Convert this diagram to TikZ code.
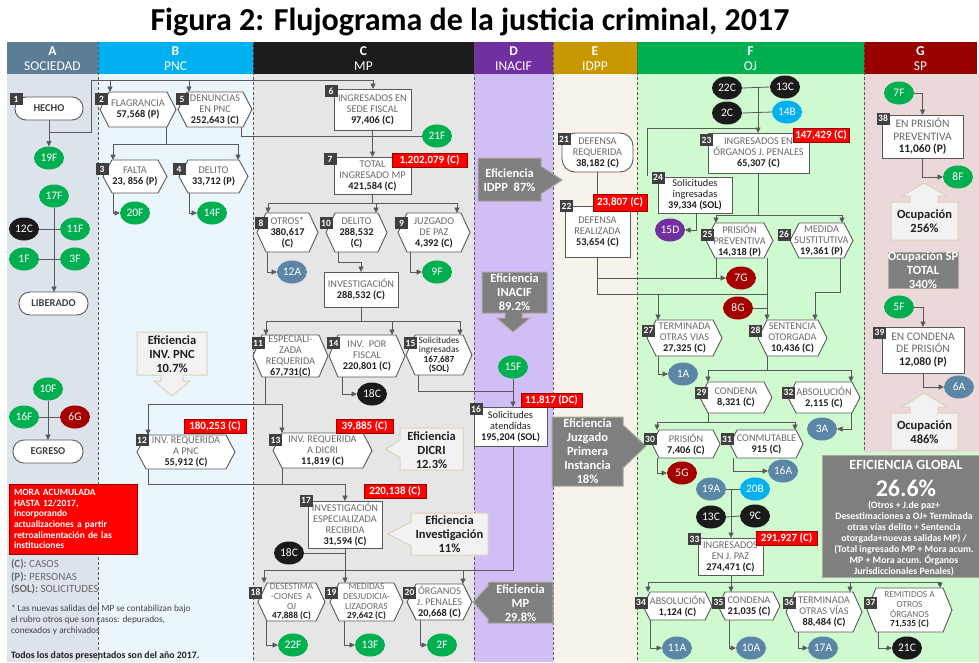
\documentclass[tikz,border=0pt]{standalone}
\usepackage{fontspec}
\setmainfont{Carlito}
\usetikzlibrary{arrows.meta,calc,shapes.geometric}
\pgfdeclarelayer{bg}
\pgfdeclarelayer{mid}
\pgfsetlayers{bg,mid,main}
\definecolor{hdrA}{HTML}{5B7E96}
\definecolor{bgA}{HTML}{DCE3EA}
\definecolor{hdrB}{HTML}{00B0F0}
\definecolor{bgB}{HTML}{EAF6FC}
\definecolor{hdrC}{HTML}{1C1C1C}
\definecolor{bgC}{HTML}{E6E6E6}
\definecolor{hdrD}{HTML}{7030A0}
\definecolor{bgD}{HTML}{D0BEF6}
\definecolor{hdrE}{HTML}{C99700}
\definecolor{bgE}{HTML}{F8F3EA}
\definecolor{hdrF}{HTML}{00B050}
\definecolor{bgF}{HTML}{CFF9CF}
\definecolor{hdrG}{HTML}{990000}
\definecolor{bgG}{HTML}{EBD9D9}
\definecolor{linec}{HTML}{595959}
\definecolor{labc}{HTML}{6A6A6A}
\definecolor{numc}{HTML}{1F1F1F}
\definecolor{badgec}{HTML}{404040}
\definecolor{cgreen}{HTML}{00B050}
\definecolor{cslate}{HTML}{5B86A6}
\definecolor{cblack}{HTML}{1A1A1A}
\definecolor{cdred}{HTML}{A50000}
\definecolor{ccyan}{HTML}{00B0F0}
\definecolor{cpurple}{HTML}{7030A0}
\definecolor{redlab}{HTML}{FF0000}
\definecolor{lightc}{HTML}{F2F2F2}
\definecolor{tanc}{HTML}{DDD0B8}
\definecolor{darkc}{HTML}{7F7F7F}
\newcommand\LB[1]{{\color{labc}#1}}
\newcommand\NM[1]{{\bfseries #1}}
\newcommand\hexa[2][9]{\begin{pgfonlayer}{mid}\draw[hexline] ($(#2.north west)+(#1,0)$) -- ($(#2.north east)+(-#1,0)$) -- (#2.east) -- ($(#2.south east)+(-#1,0)$) -- ($(#2.south west)+(#1,0)$) -- (#2.west) -- cycle;\end{pgfonlayer}}
\tikzset{
  conn/.style={draw=linec, line width=0.8pt},
  arr/.style={conn, -{Triangle[length=5.5pt,width=5pt]}},
  hexline/.style={draw=linec, fill=white, line width=0.9pt, line join=miter},
  txt/.style={font=\fontsize{10.3}{11}\selectfont, align=center, text=numc},
  hx/.style={txt},
  tight/.style={font=\fontsize{9.3}{9.6}\selectfont},
  big/.style={font=\fontsize{11.5}{12.5}\selectfont},
  bx/.style={txt, draw=linec, fill=white, line width=0.9pt},
  rbx/.style={bx, rounded corners=11pt, font=\fontsize{10.5}{11}\selectfont\bfseries, text=badgec},
  badge/.style={fill=badgec, text=white, font=\fontsize{9.5}{9.5}\selectfont\bfseries, minimum width=13, minimum height=12},
  redl/.style={fill=redlab, draw=red!60!black, line width=0.4pt, text=white, font=\fontsize{11}{11}\selectfont\bfseries, minimum height=14},
  circ/.style={ellipse, minimum width=30, minimum height=23, text=white, font=\fontsize{11.5}{11.5}\selectfont},
  cg/.style={circ, fill=cgreen}, cs/.style={circ, fill=cslate}, ck/.style={circ, fill=cblack},
  cr/.style={circ, fill=cdred}, cc/.style={circ, fill=ccyan}, cp/.style={circ, fill=cpurple},
  hdr/.style={text=white, font=\fontsize{13.5}{14.5}\selectfont, align=center},
  light/.style={fill=lightc, draw=tanc, line width=1pt},
  dark/.style={fill=darkc, draw=tanc!50!darkc, line width=1pt},
  ctxt/.style={font=\fontsize{12.5}{14}\selectfont\bfseries, align=center, text=numc},
  dtxt/.style={font=\fontsize{12.5}{14}\selectfont\bfseries, align=center, text=white},
  sepline/.style={draw=linec, line width=0.8pt, dash pattern=on 3pt off 2pt}
}
\begin{document}
\begin{tikzpicture}[x=1pt,y=-1pt, every node/.style={inner sep=0pt,outer sep=0pt}]
\clip (0,0) rectangle (979,662);
\begin{pgfonlayer}{bg}
\fill[white] (0,0) rectangle (979,662);
\fill[bgA] (7,74) rectangle (98,662);
\fill[bgB] (98,74) rectangle (253,662);
\fill[bgC] (253,74) rectangle (474,662);
\fill[bgD] (474,74) rectangle (553,662);
\fill[bgE] (553,74) rectangle (637,662);
\fill[bgF] (637,74) rectangle (979,662);
\fill[bgG] (864,74) rectangle (979,452);
\fill[hdrA] (7,42) rectangle (98,74);
\fill[hdrB] (98,42) rectangle (253,74);
\fill[hdrC] (253,42) rectangle (474,74);
\fill[hdrD] (474,42) rectangle (553,74);
\fill[hdrE] (553,42) rectangle (637,74);
\fill[hdrF] (637,42) rectangle (864,74);
\fill[hdrG] (864,42) rectangle (977,74);
\foreach \xx in {98,253,474,553,637} \draw[sepline] (\xx,42) -- (\xx,662);
\draw[sepline] (864,42) -- (864,452);
\end{pgfonlayer}

% title and headers
\node[font=\fontsize{32}{34}\selectfont\bfseries, anchor=base] (title) at (470,30) {Figura 2: Flujograma de la justicia criminal, 2017};
\node[hdr] (hA) at (52.5,58.5) {\textbf{A}\\SOCIEDAD};
\node[hdr] (hB) at (175.5,58.5) {\textbf{B}\\PNC};
\node[hdr] (hC) at (363.5,58.5) {\textbf{C}\\MP};
\node[hdr] (hD) at (513.5,58.5) {\textbf{D}\\INACIF};
\node[hdr] (hE) at (595,58.5) {\textbf{E}\\IDPP};
\node[hdr] (hF) at (750.5,58.5) {\textbf{F}\\OJ};
\node[hdr] (hG) at (920.5,58.5) {\textbf{G}\\SP};

% ---------- column A
\node[rbx, minimum width=68, minimum height=23] (hecho) at (49,108.5) {HECHO};
\node[cg] (c19F) at (49,158) {19F};
\node[cg] (c17F) at (54,196) {17F};
\node[ck] (c12C) at (24,229) {12C};
\node[cg] (c11F) at (75,229) {11F};
\node[cg] (c1F) at (24,259) {1F};
\node[cg] (c3F) at (75,259) {3F};
\node[rbx, minimum width=69, minimum height=23] (liberado) at (53.5,303.5) {LIBERADO};
\node[cg] (c10F) at (48,389) {10F};
\node[cg] (c16F) at (24,417) {16F};
\node[cr] (c6G) at (75,417) {6G};
\node[rbx, minimum width=70, minimum height=23] (egreso) at (48,451.5) {EGRESO};

\node[fill=redlab, draw=red!60!black, line width=0.5pt, text=white, font=\fontsize{9.5}{10.7}\selectfont\bfseries, align=left, anchor=north west, text width=118, inner xsep=5, inner ysep=3, minimum height=70] (mora) at (9,484) {MORA ACUMULADA\\HASTA 12/2017,\\incorporando\\actualizaciones a partir\\retroalimentación de las\\instituciones};
\node[anchor=west, font=\fontsize{11}{11}\selectfont, text=labc] (legC) at (11,564) {\textbf{(C):} CASOS};
\node[anchor=west, font=\fontsize{11}{11}\selectfont, text=labc] (legP) at (11,577) {\textbf{(P):} PERSONAS};
\node[anchor=west, font=\fontsize{11}{11}\selectfont, text=labc] (legS) at (11,589) {\textbf{(SOL):} SOLICITUDES};
\node[anchor=north west, align=left, font=\fontsize{9.3}{11}\selectfont, text=badgec] (note) at (11,605) {* Las nuevas salidas del MP se contabilizan bajo\\el rubro otros que son casos: depurados,\\conexados y archivados};
\node[anchor=west, font=\fontsize{9.8}{10}\selectfont\bfseries, text=numc] (todos) at (11,656) {Todos los datos presentados son del año 2017.};

% ---------- column B
\node[hx, minimum width=76, minimum height=35] (n2) at (138,109.5) {\LB{FLAGRANCIA}\\\NM{57,568 (P)}}; \hexa{n2}
\node[hx, minimum width=74, minimum height=35] (n5) at (215,109.5) {\LB{DENUNCIAS}\\\LB{EN PNC}\\\NM{252,643 (C)}}; \hexa{n5}
\node[hx, minimum width=64, minimum height=33] (n3) at (135,176.5) {\LB{FALTA}\\\NM{23, 856 (P)}}; \hexa{n3}
\node[hx, minimum width=69, minimum height=33] (n4) at (213.5,176.5) {\LB{DELITO}\\\NM{33,712 (P)}}; \hexa{n4}
\node[cg] (c20F) at (135,213) {20F};
\node[cg] (c14F) at (212,213) {14F};
\node[hx, minimum width=98, minimum height=34] (n12) at (186,452) {\LB{INV. REQUERIDA}\\\LB{A PNC}\\\NM{55,912 (C)}}; \hexa{n12}

\path[light] (137,332) -- (207,332) -- (207,375) -- (183,375) -- (183,381) -- (190,381) -- (172,396) -- (154,381) -- (161,381) -- (161,375) -- (137,375) -- cycle;
\node[ctxt] (effPNC) at (172,354) {Eficiencia\\INV. PNC\\10.7\%};

% ---------- column C
\node[bx, minimum width=77, minimum height=41] (n6) at (372.5,109.5) {\LB{INGRESADOS EN}\\\LB{SEDE FISCAL}\\\NM{97,406 (C)}};
\node[bx, minimum width=77, minimum height=37] (n7) at (372.5,175.5) {\LB{TOTAL}\\\LB{INGRESADO MP}\\\NM{421,584 (C)}};
\node[cg] (c21F) at (437,136) {21F};
\node[hx, minimum width=61, minimum height=39] (n8) at (287.5,232.5) {\LB{OTROS*}\\\NM{380,617}\\\NM{(C)}}; \hexa{n8}
\node[hx, minimum width=61, minimum height=39] (n10) at (356.5,232.5) {\LB{DELITO}\\\NM{288,532}\\\NM{(C)}}; \hexa{n10}
\node[hx, minimum width=72, minimum height=39] (n9) at (434,232.5) {\LB{JUZGADO}\\\LB{DE PAZ}\\\NM{4,392 (C)}}; \hexa{n9}
\node[cs] (c12A) at (292,272) {12A};
\node[cg] (c9F) at (437,272) {9F};
\node[bx, minimum width=74, minimum height=35] (ninv) at (361,289.5) {\LB{INVESTIGACIÓN}\\\NM{288,532 (C)}};
\node[hx, minimum width=75, minimum height=42] (n11) at (290.5,356) {\LB{ESPECIALI-}\\\LB{ZADA}\\\LB{REQUERIDA}\\\NM{67,731(C)}}; \hexa{n11}
\node[hx, minimum width=76, minimum height=42] (n14) at (367,356) {\LB{INV.\ \ POR}\\\LB{FISCAL}\\\NM{220,801 (C)}}; \hexa{n14}
\node[hx, tight, minimum width=66, minimum height=40] (n15) at (439,355) {Solicitudes\\ingresadas\\\NM{167,687}\\\NM{(SOL)}}; \hexa{n15}
\node[ck] (c18C) at (372,394) {18C};
\node[hx, minimum width=99, minimum height=35] (n13) at (322.5,450.5) {\LB{INV. REQUERIDA}\\\LB{A DICRI}\\\NM{11,819 (C)}}; \hexa{n13}
\node[bx, minimum width=74, minimum height=47] (n17) at (345,524.5) {\LB{INVESTIGACIÓN}\\\LB{ESPECIALIZADA}\\\LB{RECIBIDA}\\\NM{31,594 (C)}};
\node[ck] (c18Cb) at (289,553) {18C};
\node[hx, tight, minimum width=67, minimum height=38] (n18) at (291.5,602) {\LB{DESESTIMA}\\\LB{-CIONES\ \ A}\\\LB{OJ}\\\NM{47,888 (C)}}; \hexa{n18}
\node[hx, tight, minimum width=73, minimum height=38] (n19) at (366.5,602) {\LB{MEDIDAS}\\\LB{DESJUDICIA-}\\\LB{LIZADORAS}\\\NM{29,642 (C)}}; \hexa{n19}
\node[hx, minimum width=65, minimum height=36] (n20) at (439.5,602) {\LB{ÓRGANOS}\\\LB{J. PENALES}\\\NM{20,668 (C)}}; \hexa{n20}
\node[cg] (c22F) at (293,645) {22F};
\node[cg] (c13F) at (370,645) {13F};
\node[cg] (c2F) at (442,645) {2F};

\path[light] (463,428) -- (400,428) -- (400,440) -- (386,449) -- (400,458) -- (400,470) -- (463,470) -- cycle;
\node[ctxt] (effDICRI) at (431.5,450) {Eficiencia\\DICRI\\12.3\%};
\path[light] (488,513) -- (411,513) -- (411,522) -- (388,534) -- (411,546) -- (411,555) -- (488,555) -- cycle;
\node[ctxt] (effInv) at (449.5,534.5) {Eficiencia\\Investigación\\11\%};

% ---------- column D
\path[dark] (478,158) -- (541,158) -- (541,166) -- (562,180) -- (541,194) -- (541,201) -- (478,201) -- cycle;
\node[dtxt] (effIDPP) at (509.5,180) {Eficiencia\\IDPP\ \ 87\%};
\path[dark] (482,272) -- (547,272) -- (547,313) -- (522,313) -- (522,318) -- (530,318) -- (513,332) -- (497,318) -- (505,318) -- (505,313) -- (482,313) -- cycle;
\node[dtxt] (effINACIF) at (514.5,292.5) {Eficiencia\\INACIF\\89.2\%};
\node[cg] (c15F) at (513,367) {15F};
\node[bx, minimum width=73, minimum height=39] (n16) at (510.5,426.5) {Solicitudes\\atendidas\\\NM{195,204 (SOL)}};
\path[dark] (553,582) -- (488,582) -- (488,586) -- (473,602) -- (488,619) -- (488,623) -- (553,623) -- cycle;
\node[dtxt] (effMP) at (520.5,603) {Eficiencia\\MP\\29.8\%};

% ---------- column E
\node[bx, rounded corners=13pt, minimum width=71, minimum height=39] (n21) at (597.5,152.5) {\LB{DEFENSA}\\\LB{REQUERIDA}\\\NM{38,182 (C)}};
\node[bx, minimum width=65, minimum height=51] (n22) at (597.5,231.5) {\\[-4pt]\LB{DEFENSA}\\\LB{REALIZADA}\\\NM{53,654 (C)}};
\path[dark] (552,417) -- (623,417) -- (623,425) -- (646,446) -- (623,468) -- (623,486) -- (552,486) -- cycle;
\node[dtxt] (effJPI) at (587.5,451) {Eficiencia\\Juzgado\\Primera\\Instancia\\18\%};

% ---------- column F
\node[ck] (c22C) at (727,88) {22C};
\node[ck] (c13C) at (785,87) {13C};
\node[ck] (c2C) at (727,113) {2C};
\node[cc] (c14B) at (787,112) {14B};
\node[bx, minimum width=101, minimum height=40] (n23) at (758.5,153) {\LB{INGRESADOS EN}\\\LB{ÓRGANOS J. PENALES}\\\NM{65,307 (C)}};
\node[bx, minimum width=74, minimum height=36] (n24) at (695,195) {Solicitudes\\ingresadas\\\NM{39,334 (SOL)}};
\node[cp] (c15D) at (670,230) {15D};
\node[hx, minimum width=67, minimum height=35] (n25) at (739.5,240.5) {\LB{PRISIÓN}\\\LB{PREVENTIVA}\\\NM{14,318 (P)}}; \hexa{n25}
\node[hx, minimum width=63, minimum height=35] (n26) at (821.5,240.5) {\LB{MEDIDA}\\\LB{SUSTITUTIVA}\\\NM{19,361 (P)}}; \hexa{n26}
\node[cr] (c7G) at (741,278) {7G};
\node[cr] (c8G) at (738,308) {8G};
\node[hx, minimum width=75, minimum height=36] (n27) at (684.5,338) {\LB{TERMINADA}\\\LB{OTRAS VIAS}\\\NM{27,325 (C)}}; \hexa{n27}
\node[cs] (c1A) at (683,374) {1A};
\node[hx, minimum width=69, minimum height=36] (n28) at (792.5,338) {\LB{SENTENCIA}\\\LB{OTORGADA}\\\NM{10,436 (C)}}; \hexa{n28}
\node[hx, minimum width=72, minimum height=31] (n29) at (736,397.5) {\LB{CONDENA}\\\NM{8,321 (C)}}; \hexa[8]{n29}
\node[hx, minimum width=72, minimum height=31] (n32) at (824,397.5) {\LB{ABSOLUCIÓN}\\\NM{2,115 (C)}}; \hexa[8]{n32}
\node[cs] (c3A) at (822,429) {3A};
\node[hx, minimum width=68, minimum height=28] (n30) at (686,444) {\LB{PRISIÓN}\\\NM{7,406 (C)}}; \hexa[7]{n30}
\node[hx, minimum width=73, minimum height=28] (n31) at (766.5,444) {\LB{CONMUTABLE}\\\NM{915 (C)}}; \hexa[7]{n31}
\node[cr] (c5G) at (682,473) {5G};
\node[cs] (c16A) at (783,471) {16A};
\node[cs] (c19A) at (711,489) {19A};
\node[cc] (c20B) at (755,489) {20B};
\node[ck] (c13Cb) at (711,517) {13C};
\node[ck] (c9C) at (755,516) {9C};
\node[bx, minimum width=65, minimum height=37] (n33) at (730.5,556.5) {\LB{INGRESADOS}\\\LB{EN J. PAZ}\\\NM{274,471 (C)}};
\node[hx, minimum width=69, minimum height=28] (n34) at (677.5,606) {\LB{ABSOLUCIÓN}\\\NM{1,124 (C)}}; \hexa[7]{n34}
\node[hx, minimum width=62, minimum height=28] (n35) at (749,606) {\LB{CONDENA}\\\NM{21,035 (C)}}; \hexa[7]{n35}
\node[hx, minimum width=76, minimum height=40] (n36) at (824,612) {\LB{TERMINADA}\\\LB{OTRAS VÍAS}\\\NM{88,484 (C)}}; \hexa{n36}
\node[hx, tight, minimum width=85, minimum height=44] (n37) at (909.5,610) {\LB{REMITIDOS A}\\\LB{OTROS}\\\LB{ÓRGANOS}\\\NM{71,535 (C)}}; \hexa{n37}
\node[cs] (c11A) at (677,648) {11A};
\node[cs] (c10A) at (751,648) {10A};
\node[cs] (c17A) at (823,648) {17A};
\node[ck] (c21C) at (907,648) {21C};

\node[fill=darkc, draw=tanc!50!darkc, line width=1pt, minimum width=172, minimum height=122, anchor=north west] (effG) at (822,455) {};
\node[font=\fontsize{14}{14}\selectfont\bfseries, text=white] (effGt) at (906,464.5) {EFICIENCIA GLOBAL};
\node[font=\fontsize{24}{24}\selectfont\bfseries, text=white] (effGv) at (906,488) {26.6\%};
\node[font=\fontsize{9.8}{10.9}\selectfont\bfseries, text=white, align=center] (effGf) at (904,538.5) {(Otros + J.de paz+\\Desestimaciones a OJ+ Terminada\\otras vías delito + Sentencia\\otorgada+nuevas salidas MP) /\\(Total ingresado MP + Mora acum.\\MP + Mora acum. Órganos\\Jurisdiccionales Penales)};

% ---------- column G
\node[cg] (c7F) at (899,93) {7F};
\node[bx, big, minimum width=81, minimum height=43] (n38) at (922.5,136.5) {\LB{EN PRISIÓN}\\\LB{PREVENTIVA}\\\NM{11,060 (P)}};
\node[cg] (c8F) at (958,177) {8F};
\path[light] (891,202) -- (910,202) -- (910,196) -- (902,196) -- (924,183) -- (947,196) -- (938,196) -- (938,202) -- (958,202) -- (958,240) -- (891,240) -- cycle;
\node[ctxt] (occ1) at (924.5,221.5) {Ocupación\\256\%};
\path[dark] (888,252) rectangle (958,288);
\node[dtxt] (occT) at (923,270) {Ocupación SP\\TOTAL\\340\%};
\node[cg] (c5F) at (899,307) {5F};
\node[bx, big, minimum width=82, minimum height=46] (n39) at (923,350) {\LB{EN CONDENA}\\\LB{DE PRISIÓN}\\\NM{12,080 (P)}};
\node[cs] (c6A) at (959,387) {6A};
\path[light] (891,413) -- (910,413) -- (910,407) -- (902,407) -- (924,393) -- (947,407) -- (938,407) -- (938,413) -- (958,413) -- (958,450) -- (891,450) -- cycle;
\node[ctxt] (occ2) at (924.5,432) {Ocupación\\486\%};

% ---------- connectors
\draw[arr] (hecho.south) -- (c19F.north);
\draw[conn] (hecho.south|-0,132) -- (91,132) -- (91,80) -- (373,80);
\draw[arr] (110,80) -- (110,0|-n2.north);
\draw[arr] (189,80) -- (189,0|-n5.north);
\draw[arr] (373,80) -- (373,0|-n6.north);
\draw[arr] (c17F.south) -- (c17F.south|-liberado.north);
\draw[conn] (c12C.east) -- (c11F.west);
\draw[conn] (c1F.east) -- (c3F.west);
\draw[arr] (c10F.south) -- (c10F.south|-egreso.north);
\draw[conn] (c16F.east) -- (c6G.west);

\draw[conn] (166,0|-n2.south) -- (166,144);
\draw[arr] (166,144) -- (113,144) -- (113,0|-n3.north);
\draw[arr] (166,144) -- (238,144) -- (238,0|-n4.north);
\draw[arr] (113,0|-n3.south) |- (c20F.west);
\draw[arr] (189,0|-n4.south) |- (c14F.west);
\draw[conn] (241,0|-n5.south) |- (c21F.west);
\draw[arr] (n6.south) -- (n7.north);

\draw[arr] (n7.south) -- ++(0,9) -| (268,0|-n8.north);
\draw[arr] (n7.south) ++(0,9) -| (376,0|-n10.north);
\draw[arr] (n7.south) ++(0,9) -| (457,0|-n9.north);
\draw[arr] (267,0|-n8.south) |- (c12A.west);
\draw[arr] (338,0|-n10.south) -- (338,262) -| (ninv.north);
\draw[arr] (410,0|-n9.south) |- (c9F.west);
\draw[arr] (ninv.south) -- ++(0,14) -| (266,0|-n11.north);
\draw[arr] (ninv.south) ++(0,14) -| (392,0|-n14.north);
\draw[arr] (ninv.south) ++(0,14) -| (460,0|-n15.north);
\draw[conn] (265,0|-n11.south) -- (265,404);
\draw[arr] (265,404) -- (148,404) -- (148,0|-n12.north);
\draw[arr] (265,404) -- (282,404) -- (282,0|-n13.north);
\draw[arr] (342,0|-n14.south) |- (c18C.west);
\draw[conn] (418,0|-n15.south) |- (c15F.south|-0,391);
\draw[arr] (c15F.south) -- (c15F.south|-n16.north);
\draw[arr] (148,0|-n12.south) |- (n17.north|-0,484) -- (n17.north);
\draw[conn] (282,0|-n13.south) -- (282,484);
\draw[conn] (c18Cb.east) -- (n17.south|-c18Cb.east);
\draw[arr] (n17.south) -- ++(0,22) -| (264,0|-n18.north);
\draw[arr] (n17.south) ++(0,22) -- (n17.south|-n19.north);
\draw[arr] (n17.south) ++(0,22) -| (463,0|-n20.north);
\draw[conn] (513,0|-n16.south) -- (513,570) -- (463,570);
\draw[arr] (266,0|-n18.south) |- (c22F.west);
\draw[arr] (344,0|-n19.south) |- (c13F.west);
\draw[arr] (420,0|-n20.south) |- (c2F.west);

\draw[conn] (n21.south) -- (n22.north);
\draw[conn] (n22.south) -- (n22.south|-0,294) -- (767,294);
\draw[conn] (n22.south|-0,278) -- (716,278);
\draw[arr] (658,294) -- (658,0|-n27.north);

\draw[conn] (c22C.east) -- (c13C.west);
\draw[conn] (c2C.east) -- (c14B.west);
\draw[arr] (758,0|-c13C.west) -- (758,0|-n23.north);
\draw[conn] (758,128) -- (647,128) -- (647,176);
\draw[arr] (n23.south) -- (n23.south|-0,215) -| (716,0|-n25.north);
\draw[arr] (n23.south|-0,215) -| (842,0|-n26.north);
\draw[arr] (696,0|-n24.south) |- (c15D.east);
\draw[arr] (716,0|-n25.south) |- (c7G.west);
\draw[arr] (767,0|-n25.south) -- (767,0|-n28.north);
\draw[conn] (c8G.east) -- (767,0|-c8G.east);
\draw[arr] (840,0|-n26.south) |- (815,292) -- (815,0|-n28.north);
\draw[arr] (658,0|-n27.south) |- (c1A.west);
\draw[arr] (767,0|-n28.south) -- (767,370) -| (708,0|-n29.north);
\draw[arr] (767,370) -| (851,0|-n32.north);
\draw[arr] (851,0|-n32.south) |- (c3A.east);
\draw[arr] (708,0|-n29.south) -- (708,422) -| (657,0|-n30.north);
\draw[arr] (708,422) -| (795,0|-n31.north);
\draw[arr] (657,0|-n30.south) |- (c5G.west);
\draw[arr] (733,0|-n31.south) |- (c16A.west);
\draw[conn] (c19A.east) -- (c20B.west);
\draw[conn] (c13Cb.east) -- (c9C.west);
\draw[arr] (731,0|-c19A.east) -- (731,0|-n33.north);
\draw[arr] (731,0|-n33.south) -- (731,582) -| (648,0|-n34.north);
\draw[arr] (731,582) -- (731,0|-n35.north);
\draw[arr] (731,582) -| (850,0|-n36.north);
\draw[arr] (731,582) -| (940,0|-n37.north);
\draw[arr] (650,0|-n34.south) |- (c11A.west);
\draw[arr] (729,0|-n35.south) |- (c10A.west);
\draw[arr] (798,0|-n36.south) |- (c17A.west);
\draw[arr] (878,0|-n37.south) |- (c21C.west);

\draw[arr] (c7F.east) -| (n38.north);
\draw[arr] (n38.south) |- (c8F.west);
\draw[arr] (c5F.east) -| (n39.north);
\draw[arr] (n39.south) |- (c6A.west);

% ---------- badges
\node[badge] (b1) at (16,99) {1};
\node[badge] (b2) at (101.5,99) {2};
\node[badge] (b5) at (182,99) {5};
\node[badge] (b3) at (102,169) {3};
\node[badge] (b4) at (179,169) {4};
\node[badge] (b12) at (142,440) {12};
\node[badge] (b6) at (331,91) {6};
\node[badge] (b7) at (330,159) {7};
\node[badge] (b8) at (261,223) {8};
\node[badge] (b10) at (326,223) {10};
\node[badge] (b9) at (401.5,223) {9};
\node[badge] (b11) at (258,343) {11};
\node[badge] (b14) at (333.5,343) {14};
\node[badge] (b15) at (410.5,343) {15};
\node[badge] (b13) at (275.5,440) {13};
\node[badge] (b17) at (306,500.5) {17};
\node[badge] (b18) at (255.5,592.5) {18};
\node[badge] (b19) at (331.5,592.5) {19};
\node[badge] (b20) at (409.5,592.5) {20};
\node[badge] (b16) at (476,409) {16};
\node[badge] (b21) at (564,139) {21};
\node[badge] (b22) at (566.5,206) {22};
\node[badge] (b23) at (706.5,140) {23};
\node[badge] (b24) at (658,177.5) {24};
\node[badge] (b25) at (707.5,234.5) {25};
\node[badge] (b26) at (784,234.5) {26};
\node[badge] (b27) at (648.5,330.5) {27};
\node[badge] (b28) at (755.5,330.5) {28};
\node[badge] (b29) at (701.5,392.5) {29};
\node[badge] (b32) at (788.5,392.5) {32};
\node[badge] (b30) at (650,439) {30};
\node[badge] (b31) at (727,439) {31};
\node[badge] (b33) at (694.5,539) {33};
\node[badge] (b34) at (641,602.5) {34};
\node[badge] (b35) at (718.5,602.5) {35};
\node[badge] (b36) at (789,602.5) {36};
\node[badge] (b37) at (870.5,602.5) {37};
\node[badge] (b38) at (883,118.5) {38};
\node[badge] (b39) at (879.5,332.5) {39};

% ---------- red labels
\node[redl, minimum width=62] (r12) at (215,426.5) {180,253 (C)};
\node[redl, minimum width=75] (r7) at (429.5,160) {1,202,079 (C)};
\node[redl, minimum width=57] (r13) at (364.5,426) {39,885 (C)};
\node[redl, minimum width=62] (r17) at (395,491) {220,138 (C)};
\node[redl, minimum width=61] (r16) at (551.5,400) {11,817 (DC)};
\node[redl, minimum width=54, minimum height=17] (r22) at (620,202.5) {23,807 (C)};
\node[redl, minimum width=56] (r23) at (821,135.5) {147,429 (C)};
\node[redl, minimum width=61] (r33) at (786.5,538.5) {291,927 (C)};
\end{tikzpicture}
\end{document}
